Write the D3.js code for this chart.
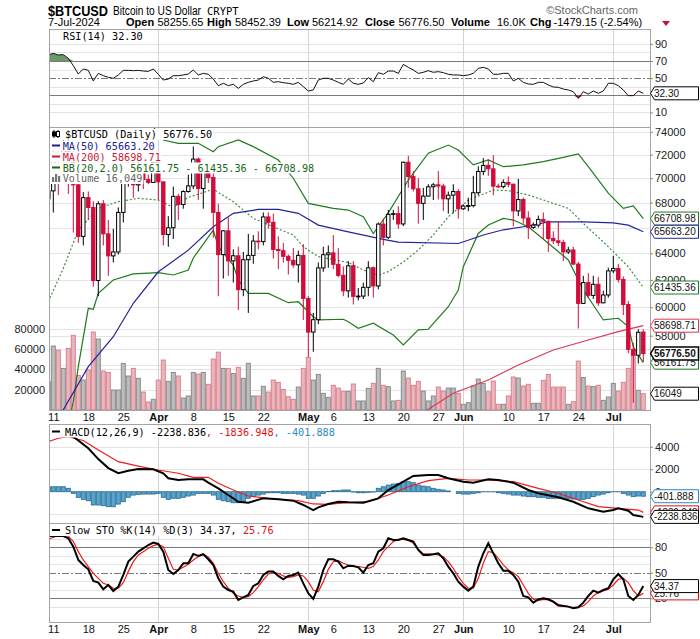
<!DOCTYPE html>
<html>
<head>
<meta charset="utf-8">
<script src="https://d3js.org/d3.v7.min.js"></script>
<style>
  body { margin: 0; background: #fff; }
  svg { display: block; }
</style>
</head>
<body>
<script>
// ---------- data ----------
const firstDay = '2024-03-10';
const lastDay = '2024-07-07';

const opens = [
  68300, 68950, 72120, 71480, 73100, 71400, 69450, 65300, 68400, 67600,
  61950, 67900, 65500, 63800, 64100, 67200, 69900, 69990, 69450, 70780,
  69890, 69650, 71330, 69700, 65450, 65980, 68500, 67840, 68900, 69360,
  71620, 69140, 70590, 70060, 67200, 63900, 65740, 63420, 63810, 61280,
  63510, 63840, 64940, 64900, 66840, 66410, 64290, 64200, 63770, 63460,
  63120, 63840, 60640, 58250, 59120, 62890, 63890, 64030, 63160, 62330,
  61190, 63050, 60790, 60810, 61450, 62900, 61550, 66270, 65230, 67050,
  67100, 66280, 71350, 70140, 69120, 67930, 68520, 69290, 69450, 69350,
  68300, 68600, 68900, 67490, 67710, 67750, 68800, 70570, 71080, 70790,
  69340, 69300, 69650, 69500, 67320, 68240, 66750, 66010, 66190, 66640,
  66490, 65140, 64960, 64830, 64100, 64250, 63180, 60280, 61800, 60860,
  61670, 60320, 60890, 62670, 62850, 62030, 60200, 57060, 56660, 58255.65
];
const highs = [
  69800, 72800, 72850, 73650, 73780, 72400, 70000, 68850, 68900, 68100,
  68100, 68200, 66600, 65900, 67600, 71100, 71500, 71700, 71500, 70900,
  70300, 71300, 71330, 69700, 66900, 69300, 68700, 69000, 70300, 72700,
  71750, 71200, 71250, 71200, 67900, 65800, 66800, 64300, 64500, 64100,
  65500, 65400, 65700, 67200, 67200, 67100, 65300, 64800, 63900, 64400,
  64200, 64700, 60800, 59600, 63300, 64500, 64600, 65400, 64400, 63000,
  63400, 63400, 61400, 61800, 63400, 63000, 66400, 66700, 67400, 67400,
  67700, 71400, 71900, 70600, 70000, 69200, 69500, 69600, 70600, 69550,
  68900, 69500, 69100, 67850, 68400, 70200, 71000, 71700, 71600, 71950,
  69550, 69900, 70150, 69550, 69950, 68400, 67300, 66400, 66950, 67200,
  66550, 65700, 66450, 65050, 64500, 64500, 63350, 62300, 62500, 62300,
  62200, 61200, 62900, 63800, 63200, 62250, 60450, 57500, 58450, 58452.39
];
const lows = [
  68100, 67190, 68600, 71330, 68700, 65600, 64800, 64600, 66600, 61500,
  60800, 64600, 62300, 63300, 63900, 66400, 69300, 68400, 68900, 69100,
  69500, 69600, 68200, 64600, 64500, 65100, 66600, 67500, 68800, 69100,
  68200, 67500, 69600, 65200, 60800, 62100, 62300, 61800, 59800, 60800,
  59600, 63200, 64300, 64600, 65900, 63600, 62800, 63300, 62400, 62900,
  61800, 59100, 56550, 56900, 58800, 62600, 62900, 62800, 62200, 60800,
  60700, 60200, 60500, 60600, 60800, 60700, 61300, 64600, 65100, 66600,
  65900, 66100, 69200, 68900, 66300, 66600, 68500, 68200, 68250, 67300,
  67100, 67150, 66700, 67400, 67300, 67600, 68600, 70250, 70200, 68600,
  69200, 69150, 69250, 66100, 66900, 66300, 65100, 65900, 66000, 65100,
  64100, 64700, 64550, 63400, 63950, 63100, 58500, 60250, 60700, 60600,
  60100, 60300, 60700, 62500, 61800, 59450, 56800, 53540, 56100, 56214.92
];
const closes = [
  68950, 72120, 71480, 73100, 71400, 69450, 65300, 68400, 67600, 61950,
  67900, 65500, 63800, 64100, 67200, 69900, 69990, 69450, 70780, 69890,
  69650, 71330, 69700, 65450, 65980, 68500, 67840, 68900, 69360, 71620,
  69140, 70590, 70060, 67200, 63900, 65740, 63420, 63810, 61280, 63510,
  63840, 64940, 64900, 66840, 66410, 64290, 64200, 63770, 63460, 63120,
  63840, 60640, 58250, 59120, 62890, 63890, 64030, 63160, 62330, 61190,
  63050, 60790, 60810, 61450, 62900, 61550, 66270, 65230, 67050, 67100,
  66280, 71350, 70140, 69120, 67930, 68520, 69290, 69450, 69350, 68300,
  68600, 68900, 67490, 67710, 67750, 68800, 70570, 71080, 70790, 69340,
  69300, 69650, 69500, 67320, 68240, 66750, 66010, 66190, 66640, 66490,
  65140, 64960, 64830, 64100, 64250, 63180, 60280, 61800, 60860, 61670,
  60320, 60890, 62670, 62850, 62030, 60200, 57060, 56660, 58240, 56776.50
];
const volumes = [
  27900, 63000, 59000, 41000, 60700, 73500, 34000, 29500, 39400, 76800,
  69900, 38400, 37000, 19700, 19700, 45900, 33500, 41000, 31200, 17700,
  7900, 10500, 29500, 49200, 28200, 37000, 33500, 11800, 13800, 37000,
  35400, 37000, 25300, 50200, 57000, 41000, 41000, 36000, 42000, 31200,
  46000, 13800, 13800, 23300, 17700, 29500, 27200, 20300, 13100, 10500,
  22600, 41000, 51800, 29500, 35000, 16400, 12500, 24300, 21600, 18400,
  18400, 25600, 8900, 8900, 21300, 26200, 41000, 24300, 23000, 8900,
  9500, 38400, 31500, 24300, 28200, 18700, 8900, 13800, 22600, 18700,
  21600, 21600, 16400, 5600, 7200, 23600, 30500, 26200, 18000, 28500,
  5600, 5600, 13800, 32500, 31500, 23600, 25300, 6600, 6600, 29200,
  35000, 22600, 22600, 22600, 5600, 8200, 48200, 32000, 23600, 23000,
  24300, 9500, 12800, 26200, 18700, 27200, 41000, 57000, 19400, 16049
];

// overlays: [day index from firstDay, value]
const ma50 = [[0, 51700], [3, 53090], [8, 55900], [13, 57930], [17, 60290], [22, 62600], [23, 62860],
  [28, 64240], [33, 66060], [37, 67130], [42, 67440], [46, 67440], [50, 67130], [54, 66190],
  [60, 65660], [67, 65070], [70, 64860], [82, 64750], [85, 65140], [87, 65410], [91, 65820],
  [96, 66120], [100, 66450], [107, 66450], [113, 66370], [116, 66190], [119, 65663.20]];
const ma200 = [[70, 52300], [76, 53120], [81, 54150], [88, 55010], [94, 56010], [101, 57020],
  [108, 57700], [114, 58280], [119, 58698.71]];
const bbUpper = [[0, 77500], [10, 76500], [20, 75000], [23, 73270], [26, 72980], [30, 72980],
  [33, 72250], [34, 72690], [38, 73270], [41, 72690], [46, 71540], [49, 70000], [52, 67930],
  [57, 67530], [60, 67390], [63, 66850], [65, 65530], [68, 67160], [72, 69850], [76, 72120],
  [80, 72830], [82, 72400], [85, 71120], [88, 71540], [91, 70970], [95, 71120], [99, 71400],
  [103, 71770], [106, 72060], [108, 70970], [112, 68760], [115, 67530], [117, 67730], [119, 66708.98]];
const bbMiddle = [[0, 60400], [3, 62860], [6, 65800], [10, 67530], [14, 68070], [18, 68340],
  [22, 68200], [25, 67610], [28, 68420], [33, 69080], [37, 68070], [41, 66720], [45, 66060],
  [49, 65410], [51, 64500], [54, 63740], [60, 63300], [63, 62730], [66, 62360], [68, 62610],
  [71, 63340], [74, 64250], [77, 65410], [80, 66850], [84, 68200], [89, 69020], [92, 68970],
  [96, 68610], [100, 68070], [104, 67530], [107, 66330], [112, 64500], [116, 62980], [119, 61435.36]];
const bbLower = [[0, 49000], [3, 50800], [5, 53600], [6, 55900], [8, 59930], [9, 59860],
  [10, 61010], [13, 61990], [17, 62440], [22, 62530], [25, 62360], [28, 62730], [29, 63640],
  [33, 65800], [34, 64500], [37, 63110], [38, 61990], [40, 61010], [44, 61010], [48, 60330],
  [50, 60400], [53, 59330], [54, 59100], [59, 59150], [60, 58980], [62, 58520], [65, 58870],
  [69, 58050], [71, 57360], [74, 58400], [76, 58450], [80, 60040], [82, 61250], [83, 62980],
  [86, 65530], [88, 66200], [91, 66720], [93, 66590], [96, 66060], [100, 64770], [104, 63490],
  [107, 61250], [111, 59100], [114, 59220], [116, 58630], [117, 57240], [119, 56161.75]];

const rsi = [
  77.0, 78.9, 77.0, 77.4, 73.1, 64.6, 54.8, 60.7, 59.1, 46.7,
  55.6, 52.9, 51.0, 49.8, 53.7, 59.1, 59.1, 58.7, 59.1, 58.3,
  57.9, 60.7, 54.5, 47.8, 49.0, 52.9, 52.9, 53.7, 54.8, 59.5,
  53.7, 55.6, 54.5, 49.0, 41.2, 44.0, 41.2, 42.8, 38.1, 42.8,
  45.1, 46.7, 47.8, 51.7, 49.8, 45.1, 45.9, 44.7, 44.0, 42.8,
  45.1, 40.1, 35.0, 36.2, 47.8, 49.8, 49.8, 47.8, 45.1, 42.8,
  49.0, 44.0, 42.8, 44.3, 50.6, 45.9, 56.4, 54.5, 58.3, 58.3,
  55.6, 66.1, 62.6, 59.5, 55.6, 56.8, 58.7, 56.8, 57.6, 56.4,
  54.5, 53.7, 53.7, 52.9, 53.7, 55.6, 61.4, 62.6, 60.7, 54.5,
  54.5, 55.6, 55.6, 46.7, 49.8, 45.1, 43.2, 42.8, 45.1, 45.1,
  42.0, 39.7, 39.3, 37.3, 36.2, 34.2, 26.5, 34.2, 31.5, 35.0,
  32.3, 35.0, 44.0, 44.0, 41.2, 36.2, 29.6, 29.6, 35.0, 32.30
];

const macdLine = [[0, 4900], [2, 5250], [4, 5150], [5, 4890], [6, 4550], [8, 3860], [10, 2900],
  [12, 2100], [14, 1640], [16, 1870], [18, 2020], [21, 1990], [23, 1640], [24, 1190], [26, 1040],
  [28, 1100], [31, 1100], [32, 800], [34, 300], [36, -290], [38, -890], [40, -980], [43, -590],
  [46, -680], [49, -800], [51, -1180], [53, -1630], [54, -1390], [56, -1090], [58, -890], [60, -940],
  [63, -980], [66, -590], [68, 150], [71, 890], [73, 1400], [76, 1480], [78, 1480], [80, 1190],
  [83, 890], [85, 800], [88, 1100], [90, 1040], [93, 800], [96, 150], [98, -140], [102, -500],
  [105, -890], [108, -1480], [111, -1780], [113, -1630], [114, -1480], [116, -1690], [117, -2070],
  [119, -2238.836]];
const macdSignal = [[0, 4450], [2, 4750], [4, 4890], [6, 4650], [7, 4550], [10, 3710], [14, 2670],
  [18, 2280], [22, 1930], [26, 1640], [29, 1280], [32, 1280], [34, 750], [37, 150], [40, -380],
  [44, -590], [48, -740], [50, -800], [53, -1090], [56, -1120], [58, -1030], [60, -980], [64, -890],
  [68, -290], [72, 440], [76, 980], [80, 1190], [84, 1040], [88, 1040], [93, 890], [98, 300],
  [102, -140], [106, -740], [110, -1330], [114, -1480], [118, -1630], [119, -1836.948]];
const macdHist = [
  440, 440, 440, 440, 300, -150, -500, -680, -800, -1180,
  -1180, -1240, -1330, -1330, -1100, -890, -500, -300, -240, -210,
  -210, -210, -150, -500, -680, -590, -590, -500, -385, -300,
  -150, -150, -150, -300, -680, -800, -890, -980, -980, -890,
  -590, -440, -300, -210, -90, -90, -90, -150, -150, -150,
  -210, -300, -590, -590, -385, -150, 20, 90, 90, 150,
  150, -30, -90, -90, -60, -30, 300, 440, 590, 680,
  740, 890, 890, 800, 590, 500, 440, 300, 210, 150,
  60, 0, -150, -210, -210, -150, -90, -10, -10, -10,
  -90, -150, -210, -300, -300, -385, -440, -440, -500, -500,
  -590, -590, -590, -590, -590, -650, -680, -680, -590, -440,
  -300, -210, -90, -10, -10, -150, -300, -440, -385, -401.888
];

const stochK = [
  93.3, 93.3, 93.3, 93.3, 90.6, 80.8, 65.1, 59.2, 54.1, 40.4,
  38.4, 30.6, 35.7, 28.6, 33.7, 47.5, 63.1, 69.0, 74.9, 78.8,
  82.7, 85.5, 83.9, 74.9, 53.3, 48.6, 53.3, 61.2, 61.2, 72.2,
  69.8, 71.8, 65.9, 59.2, 43.5, 33.7, 29.8, 27.8, 18.0, 21.2,
  23.9, 34.5, 37.6, 47.5, 51.4, 51.4, 46.3, 42.4, 46.3, 47.5,
  50.2, 37.6, 25.9, 19.2, 33.7, 53.3, 65.9, 65.9, 63.1, 55.3,
  58.4, 58.0, 56.5, 50.2, 59.2, 61.2, 74.9, 78.8, 90.6, 88.6,
  88.6, 90.6, 88.6, 86.7, 76.9, 71.0, 71.0, 71.8, 72.9, 67.1,
  57.3, 49.4, 39.6, 33.7, 29.0, 33.7, 57.3, 72.9, 84.7, 72.9,
  61.2, 52.5, 52.5, 47.5, 39.6, 22.7, 21.2, 14.9, 18.8, 20.0,
  18.8, 16.1, 11.4, 11.0, 10.2, 8.2, 9.4, 14.9, 22.7, 29.0,
  26.7, 29.8, 31.8, 42.4, 48.6, 42.4, 22.7, 18.0, 23.9, 34.37
];
const stochD = [
  89.4, 91.8, 93.3, 93.3, 93.3, 86.7, 74.9, 65.1, 57.3, 49.4,
  43.5, 37.6, 35.7, 31.8, 31.8, 38.4, 51.4, 63.1, 71.0, 74.9,
  78.8, 82.0, 83.5, 80.8, 67.1, 54.1, 53.3, 56.5, 60.0, 65.1,
  69.0, 71.8, 68.2, 61.2, 49.4, 39.6, 31.8, 25.9, 22.7, 21.2,
  22.0, 26.7, 33.7, 41.6, 48.6, 50.2, 49.4, 46.3, 44.7, 45.5,
  47.5, 46.3, 39.6, 29.8, 27.8, 39.6, 54.1, 63.1, 64.3, 61.2,
  59.2, 57.6, 57.3, 56.5, 55.3, 57.3, 65.1, 74.9, 80.8, 86.7,
  89.4, 89.4, 88.2, 84.7, 77.6, 72.2, 72.2, 71.8, 71.0, 69.0,
  63.1, 55.3, 45.5, 37.6, 31.8, 31.8, 43.5, 61.2, 74.9, 73.7,
  67.1, 59.2, 53.3, 50.2, 45.5, 35.7, 25.9, 18.8, 17.3, 18.8,
  18.0, 15.7, 12.9, 11.4, 10.2, 9.4, 9.4, 11.0, 16.1, 22.7,
  26.7, 28.6, 30.6, 35.7, 42.4, 43.5, 38.4, 29.0, 22.7, 25.76
];

// ticks
const xTickLabels = [['2024-03-11', '11'], ['2024-03-18', '18'], ['2024-03-25', '25'], ['2024-04-01', 'Apr'],
  ['2024-04-08', '8'], ['2024-04-15', '15'], ['2024-04-22', '22'], ['2024-05-01', 'May'], ['2024-05-06', '6'],
  ['2024-05-13', '13'], ['2024-05-20', '20'], ['2024-05-27', '27'], ['2024-06-01', 'Jun'], ['2024-06-10', '10'],
  ['2024-06-17', '17'], ['2024-06-24', '24'], ['2024-07-01', 'Jul']];
const monthNames = ['Apr', 'May', 'Jun', 'Jul'];
const priceTicks = [74000, 72000, 70000, 68000, 64000, 62000, 60000, 58000];
const priceGrid = [56000, 58000, 60000, 62000, 64000, 66000, 68000, 70000, 72000, 74000];
const volumeTicks = [20000, 40000, 60000, 80000];
const rsiTicks = [90, 70, 50, 10];
const macdTicks = [4000, 2000, 0];
const stoTicks = [80, 50, 20];

// ---------- layout ----------
const W = 700, H = 639;
const plot = { left: 49, right: 650 };
const panels = {
  rsi:   { top: 29,  bottom: 127 },
  price: { top: 127, bottom: 410 },
  macd:  { top: 424, bottom: 523 },
  sto:   { top: 523, bottom: 622 }
};
const axisFont = "'Liberation Sans', Arial, sans-serif";
const monoFont = "'DejaVu Sans Mono', monospace";
const red = '#d10d3b';
const gridColor = '#e4e4e4';
const levelColor = '#7a7a7a';

const parseDay = s => new Date(s + 'T00:00:00Z');
const dates = d3.utcDay.range(parseDay(firstDay), d3.utcDay.offset(parseDay(lastDay), 1));
const dayMs = 864e5;
const may1 = Date.parse('2024-05-01T00:00:00Z');

const x = d3.scaleUtc()
  .domain([new Date(may1 - 51.86 * dayMs), new Date(may1 + 68.34 * dayMs)])
  .range([plot.left, plot.right]);
const rsiY = d3.scaleLinear().domain([30, 70]).range([95.3, 61]);
const priceY = d3.scaleLog().domain([58000, 74000]).range([335.7, 131.7]);
const volY = d3.scaleLinear().domain([0, 80000]).range([410, 328.8]);
const macdY = d3.scaleLinear().domain([0, 2000]).range([491.7, 469.2]);
const stoY = d3.scaleLinear().domain([20, 80]).range([598.3, 547.3]);

const svg = d3.select('body').append('svg')
  .attr('width', W).attr('height', H)
  .style('font-family', axisFont);
svg.append('rect').attr('width', W).attr('height', H).attr('fill', '#fff');

// ---------- helpers ----------
function addClip(id, p) {
  svg.append('clipPath').attr('id', id)
    .append('rect')
    .attr('x', plot.left).attr('y', p.top)
    .attr('width', plot.right - plot.left).attr('height', p.bottom - p.top);
  return svg.append('g').attr('clip-path', 'url(#' + id + ')');
}

function hLines(values, scale, color, dash) {
  svg.append('g').selectAll('line').data(values).enter().append('line')
    .attr('x1', plot.left).attr('x2', plot.right)
    .attr('y1', d => Math.round(scale(d)) + 0.5).attr('y2', d => Math.round(scale(d)) + 0.5)
    .attr('stroke', color).attr('stroke-width', 1)
    .attr('stroke-dasharray', dash || null);
}

function monthLines(p) {
  svg.append('g').selectAll('line').data(monthNames.map(m => xTickLabels.find(t => t[1] === m)[0])).enter()
    .append('line')
    .attr('x1', d => Math.round(x(parseDay(d))) + 0.5).attr('x2', d => Math.round(x(parseDay(d))) + 0.5)
    .attr('y1', p.top).attr('y2', p.bottom)
    .attr('stroke', '#d4d4d4');
}

function frame(p) {
  svg.append('rect')
    .attr('x', plot.left + 0.5).attr('y', p.top + 0.5)
    .attr('width', plot.right - plot.left).attr('height', p.bottom - p.top)
    .attr('fill', 'none').attr('stroke', '#a4a4a4');
}

function rightAxis(scale, values) {
  const g = svg.append('g')
    .attr('transform', 'translate(' + plot.right + ',0)')
    .call(d3.axisRight(scale).tickValues(values).tickSize(3).tickPadding(2).tickFormat(d => d));
  g.select('.domain').remove();
  g.selectAll('line').attr('stroke', '#888');
  g.selectAll('text').style('font-family', axisFont).style('font-size', '11px').attr('fill', '#222');
}

function tag(y, label, color, bold) {
  const g = svg.append('g');
  g.append('path')
    .attr('d', 'M' + (plot.right + 0.5) + ',' + y + ' L' + (plot.right + 4.5) + ',' + (y - 6.5) +
      ' H698.5 V' + (y + 6.5) + ' H' + (plot.right + 4.5) + ' Z')
    .attr('fill', '#fff').attr('stroke', color).attr('stroke-width', bold ? 1.5 : 1);
  const t = g.append('text')
    .attr('x', plot.right + 4).attr('y', y + 3.6)
    .text(label)
    .style('font-family', axisFont).style('font-size', '10px')
    .style('font-weight', bold ? 'bold' : 'normal')
    .attr('fill', '#111');
  // keep long labels inside the tag box
  const w = t.node().getComputedTextLength();
  if (w > 43.5) t.attr('textLength', 43.5).attr('lengthAdjust', 'spacingAndGlyphs');
}

function legendRow(xText, yBase, parts) {
  const g = svg.append('g');
  const bg = g.append('rect').attr('fill', '#fff');
  const t = g.append('text')
    .attr('x', xText).attr('y', yBase)
    .style('font-family', monoFont).style('font-size', '10.2px')
    .style('white-space', 'pre');
  parts.forEach(p => t.append('tspan').attr('fill', p[1]).text(p[0]));
  const w = t.node().getComputedTextLength();
  bg.attr('x', plot.left + 1).attr('y', yBase - 9)
    .attr('width', xText + w + 1 - plot.left - 1).attr('height', 11);
  return g;
}

function legendDash(y, color) {
  svg.append('line').attr('x1', 52).attr('x2', 60).attr('y1', y).attr('y2', y)
    .attr('stroke', color).attr('stroke-width', 2);
}

const sparseLine = yScale => d3.line()
  .x(d => x(dates[d[0]]))
  .y(d => yScale(d[1]));
const dailyLine = yScale => d3.line()
  .x((d, i) => x(dates[i]))
  .y(d => yScale(d));

// ---------- header ----------
function makeHeader() {
  // narrow lettering: squeeze the regular face to the widths in the picture
  svg.append('text').attr('x', 48).attr('y', 15.5).text('$BTCUSD')
    .attr('textLength', 60).attr('lengthAdjust', 'spacingAndGlyphs')
    .style('font-size', '15.5px').style('font-weight', 'bold').attr('fill', '#000');
  svg.append('text').attr('x', 113).attr('y', 15).text('Bitcoin to US Dollar')
    .attr('textLength', 88).attr('lengthAdjust', 'spacingAndGlyphs')
    .style('font-size', '12.5px').attr('fill', '#000');
  svg.append('text').attr('x', 207).attr('y', 15).text('CRYPT')
    .style('font-family', monoFont).style('font-size', '10.5px').attr('fill', '#000');
  svg.append('text').attr('x', 638).attr('y', 14).attr('text-anchor', 'end').text('\u00A9StockCharts.com')
    .style('font-size', '11px').attr('fill', '#666');

  const line2 = [
    [48, '7-Jul-2024', false], [126, 'Open', true], [157.5, '58255.65', false],
    [207, 'High', true], [235, '58452.39', false], [287, 'Low', true], [312, '56214.92', false],
    [365, 'Close', true], [398.5, '56776.50', false], [451, 'Volume', true], [497, '16.0K', false],
    [530, 'Chg', true], [553.5, '-1479.15 (-2.54%)', false]
  ];
  svg.append('g').selectAll('text').data(line2).enter().append('text')
    .attr('x', d => d[0]).attr('y', 26)
    .text(d => d[1])
    .style('font-size', '11px')
    .style('font-weight', d => d[2] ? 'bold' : 'normal')
    .attr('fill', '#000');
  svg.append('path').attr('d', 'M662,21 L670,21 L666,26 Z').attr('fill', red);
}

// ---------- RSI ----------
function makeRsi() {
  const p = panels.rsi;
  hLines([10, 20, 40, 60, 80, 90], rsiY, gridColor);
  monthLines(p);
  hLines([70, 30], rsiY, levelColor);
  hLines([50], rsiY, levelColor, '7,2,2,2');
  const g = addClip('clip-rsi', p);
  g.append('path').datum(rsi)
    .attr('d', d3.area().x((d, i) => x(dates[i])).y0(rsiY(70)).y1(d => rsiY(Math.max(d, 70))))
    .attr('fill', '#6a9a6a');
  g.append('path').datum(rsi)
    .attr('d', d3.area().x((d, i) => x(dates[i])).y0(rsiY(30)).y1(d => rsiY(Math.min(d, 30))))
    .attr('fill', '#c8324c');
  g.append('path').datum(rsi)
    .attr('d', dailyLine(rsiY))
    .attr('fill', 'none').attr('stroke', '#111').attr('stroke-width', 1);
  frame(p);
  svg.append('path').attr('d', 'M52,39 L54,34 L55.5,36 L57.5,32.5 L60,39 Z')
    .attr('fill', '#5f8f5f').attr('stroke', '#333').attr('stroke-width', 0.7);
  legendRow(63, 39.5, [['RSI(14) 32.30', '#000']]);
  rightAxis(rsiY, rsiTicks);
  tag(rsiY(32.30), '32.30', '#000', false);
}

// ---------- price ----------
function makePrice() {
  const p = panels.price;
  hLines(priceGrid, priceY, gridColor);
  hLines(volumeTicks, volY, gridColor);
  monthLines(p);
  const g = addClip('clip-price', p);

  const bars = dates.map((d, i) => ({
    date: d, o: opens[i], h: highs[i], l: lows[i], c: closes[i], v: volumes[i],
    prev: i ? closes[i - 1] : opens[i]
  }));

  g.append('g').selectAll('rect').data(bars).enter().append('rect')
    .attr('x', d => x(d.date) - 2)
    .attr('width', 4)
    .attr('y', d => volY(d.v))
    .attr('height', d => volY(0) - volY(d.v))
    .attr('fill', d => d.c < d.prev ? '#eab6bc' : '#bdbdbd')
    .attr('stroke', d => d.c < d.prev ? '#d8828f' : '#8a8a8a')
    .attr('stroke-width', 1);

  const bbColor = '#1f7a1f';
  g.append('path').datum(bbUpper).attr('d', sparseLine(priceY))
    .attr('fill', 'none').attr('stroke', bbColor).attr('stroke-width', 1.2);
  g.append('path').datum(bbLower).attr('d', sparseLine(priceY))
    .attr('fill', 'none').attr('stroke', bbColor).attr('stroke-width', 1.2);
  g.append('path').datum(bbMiddle).attr('d', sparseLine(priceY))
    .attr('fill', 'none').attr('stroke', '#3f8f3f').attr('stroke-width', 1.2).attr('stroke-dasharray', '2,2');
  g.append('path').datum(ma200).attr('d', sparseLine(priceY))
    .attr('fill', 'none').attr('stroke', '#dc3855').attr('stroke-width', 1.2);
  g.append('path').datum(ma50).attr('d', sparseLine(priceY))
    .attr('fill', 'none').attr('stroke', '#23239a').attr('stroke-width', 1.2);

  const candleColor = d => d.c < d.prev ? red : '#000';
  const candles = g.append('g').selectAll('g').data(bars).enter().append('g');
  candles.append('line')
    .attr('x1', d => x(d.date)).attr('x2', d => x(d.date))
    .attr('y1', d => priceY(d.h)).attr('y2', d => priceY(d.l))
    .attr('stroke', candleColor).attr('stroke-width', 1);
  candles.append('rect')
    .attr('x', d => x(d.date) - 1.7)
    .attr('width', 3.4)
    .attr('y', d => priceY(Math.max(d.o, d.c)))
    .attr('height', d => Math.max(0.8, Math.abs(priceY(d.o) - priceY(d.c))))
    .attr('fill', d => d.c >= d.o ? '#fff' : candleColor(d))
    .attr('stroke', candleColor).attr('stroke-width', 1);

  frame(p);

  // legend
  legendRow(65, 138, [['$BTCUSD (Daily) 56776.50', '#000']]);
  legendRow(62.7, 149.5, [['MA(50) 65663.20', '#1c1c8c']]);
  legendRow(62.7, 160.5, [['MA(200) 58698.71', '#cc1838']]);
  legendRow(62.7, 171.5, [['BB(20,2.0) 56161.75 - 61435.36 - 66708.98', '#1a661a']]);
  legendRow(62.7, 182, [['Volume 16,049', '#666']]);
  const icon = svg.append('g').attr('stroke', '#000').attr('stroke-width', 1);
  icon.append('line').attr('x1', 54).attr('x2', 54).attr('y1', 130).attr('y2', 138);
  icon.append('rect').attr('x', 52.5).attr('y', 132).attr('width', 3).attr('height', 4).attr('fill', '#000');
  icon.append('line').attr('x1', 58).attr('x2', 58).attr('y1', 130).attr('y2', 138);
  icon.append('rect').attr('x', 56.5).attr('y', 131.5).attr('width', 3).attr('height', 5).attr('fill', '#fff');
  legendDash(145.5, '#1c1c8c');
  legendDash(156.5, '#cc1838');
  legendDash(167.5, '#1a661a');
  svg.append('g').selectAll('rect').data([5, 8, 6]).enter().append('rect')
    .attr('x', (d, i) => 52 + i * 3).attr('y', d => 182 - d).attr('width', 2.2).attr('height', d => d)
    .attr('fill', '#777');

  rightAxis(priceY, priceTicks);
  const vAxis = svg.append('g').attr('transform', 'translate(47,0)')
    .call(d3.axisLeft(volY).tickValues(volumeTicks).tickSize(0).tickPadding(2).tickFormat(d3.format('d')));
  vAxis.select('.domain').remove();
  vAxis.selectAll('text').style('font-family', axisFont).style('font-size', '11px').attr('fill', '#222');

  tag(priceY(66708.98), '66708.98', '#1f7a1f', false);
  tag(priceY(65663.20), '65663.20', '#23239a', false);
  tag(priceY(61435.36), '61435.36', '#1f7a1f', false);
  tag(priceY(58698.71), '58698.71', '#dc3855', false);
  tag(priceY(56161.75), '56161.75', '#1f7a1f', false);
  tag(priceY(56776.50), '56776.50', '#000', true);
  tag(volY(16049), '16049', '#000', false);
}

// ---------- MACD ----------
function makeMacd() {
  const p = panels.macd;
  hLines([4000, 2000, -2000], macdY, gridColor);
  monthLines(p);
  const g = addClip('clip-macd', p);
  g.append('g').selectAll('rect').data(macdHist).enter().append('rect')
    .attr('x', (d, i) => x(dates[i]) - 2)
    .attr('width', 4)
    .attr('y', d => Math.min(macdY(d), macdY(0)))
    .attr('height', d => Math.abs(macdY(d) - macdY(0)))
    .attr('fill', '#58a6d0').attr('stroke', '#2e6f96').attr('stroke-width', 0.9);
  g.append('path').datum(macdSignal).attr('d', sparseLine(macdY))
    .attr('fill', 'none').attr('stroke', '#ee1c1c').attr('stroke-width', 1.2);
  g.append('path').datum(macdLine).attr('d', sparseLine(macdY))
    .attr('fill', 'none').attr('stroke', '#000').attr('stroke-width', 2);
  frame(p);
  legendRow(65, 435.5, [['MACD(12,26,9) -2238.836', '#000'], [', -1836.948', '#e01010'], [', -401.888', '#2a8bc4']]);
  legendDash(431.5, '#000');
  rightAxis(macdY, macdTicks);
  tag(macdY(-1836.948), '-1836.948', '#e01010', false);
  tag(macdY(-401.888), '-401.888', '#2a8bc4', false);
  tag(macdY(-2238.836), '-2238.836', '#000', false);
}

// ---------- Slow Stochastic ----------
function makeSto() {
  const p = panels.sto;
  hLines([10, 30, 40, 60, 70, 90], stoY, gridColor);
  monthLines(p);
  hLines([80, 20], stoY, levelColor);
  hLines([50], stoY, levelColor, '7,2,2,2');
  const g = addClip('clip-sto', p);
  g.append('path').datum(stochD).attr('d', dailyLine(stoY))
    .attr('fill', 'none').attr('stroke', '#ee1c1c').attr('stroke-width', 1.2);
  g.append('path').datum(stochK).attr('d', dailyLine(stoY))
    .attr('fill', 'none').attr('stroke', '#000').attr('stroke-width', 2);
  frame(p);
  legendRow(65, 534, [['Slow STO %K(14) %D(3) 34.37, ', '#000'], ['25.76', '#e01010']]);
  legendDash(530, '#000');
  rightAxis(stoY, stoTicks);
  tag(stoY(25.76), '25.76', '#e01010', false);
  tag(stoY(34.37), '34.37', '#000', false);
}

// ---------- x axes ----------
function makeXAxis(yPos) {
  const tickDates = xTickLabels.map(t => parseDay(t[0]));
  const g = svg.append('g').attr('transform', 'translate(0,' + yPos + ')')
    .call(d3.axisBottom(x).tickValues(tickDates).tickSize(0).tickPadding(3.2)
      .tickFormat((d, i) => xTickLabels[i][1]));
  g.select('.domain').remove();
  g.selectAll('text')
    .style('font-family', axisFont).style('font-size', '11px').attr('fill', '#111')
    .style('font-weight', (d, i) => monthNames.includes(xTickLabels[i][1]) ? 'bold' : 'normal');
}

makeHeader();
makeRsi();
makePrice();
makeMacd();
makeSto();
makeXAxis(panels.price.bottom);
makeXAxis(panels.sto.bottom);
</script>
</body>
</html>
